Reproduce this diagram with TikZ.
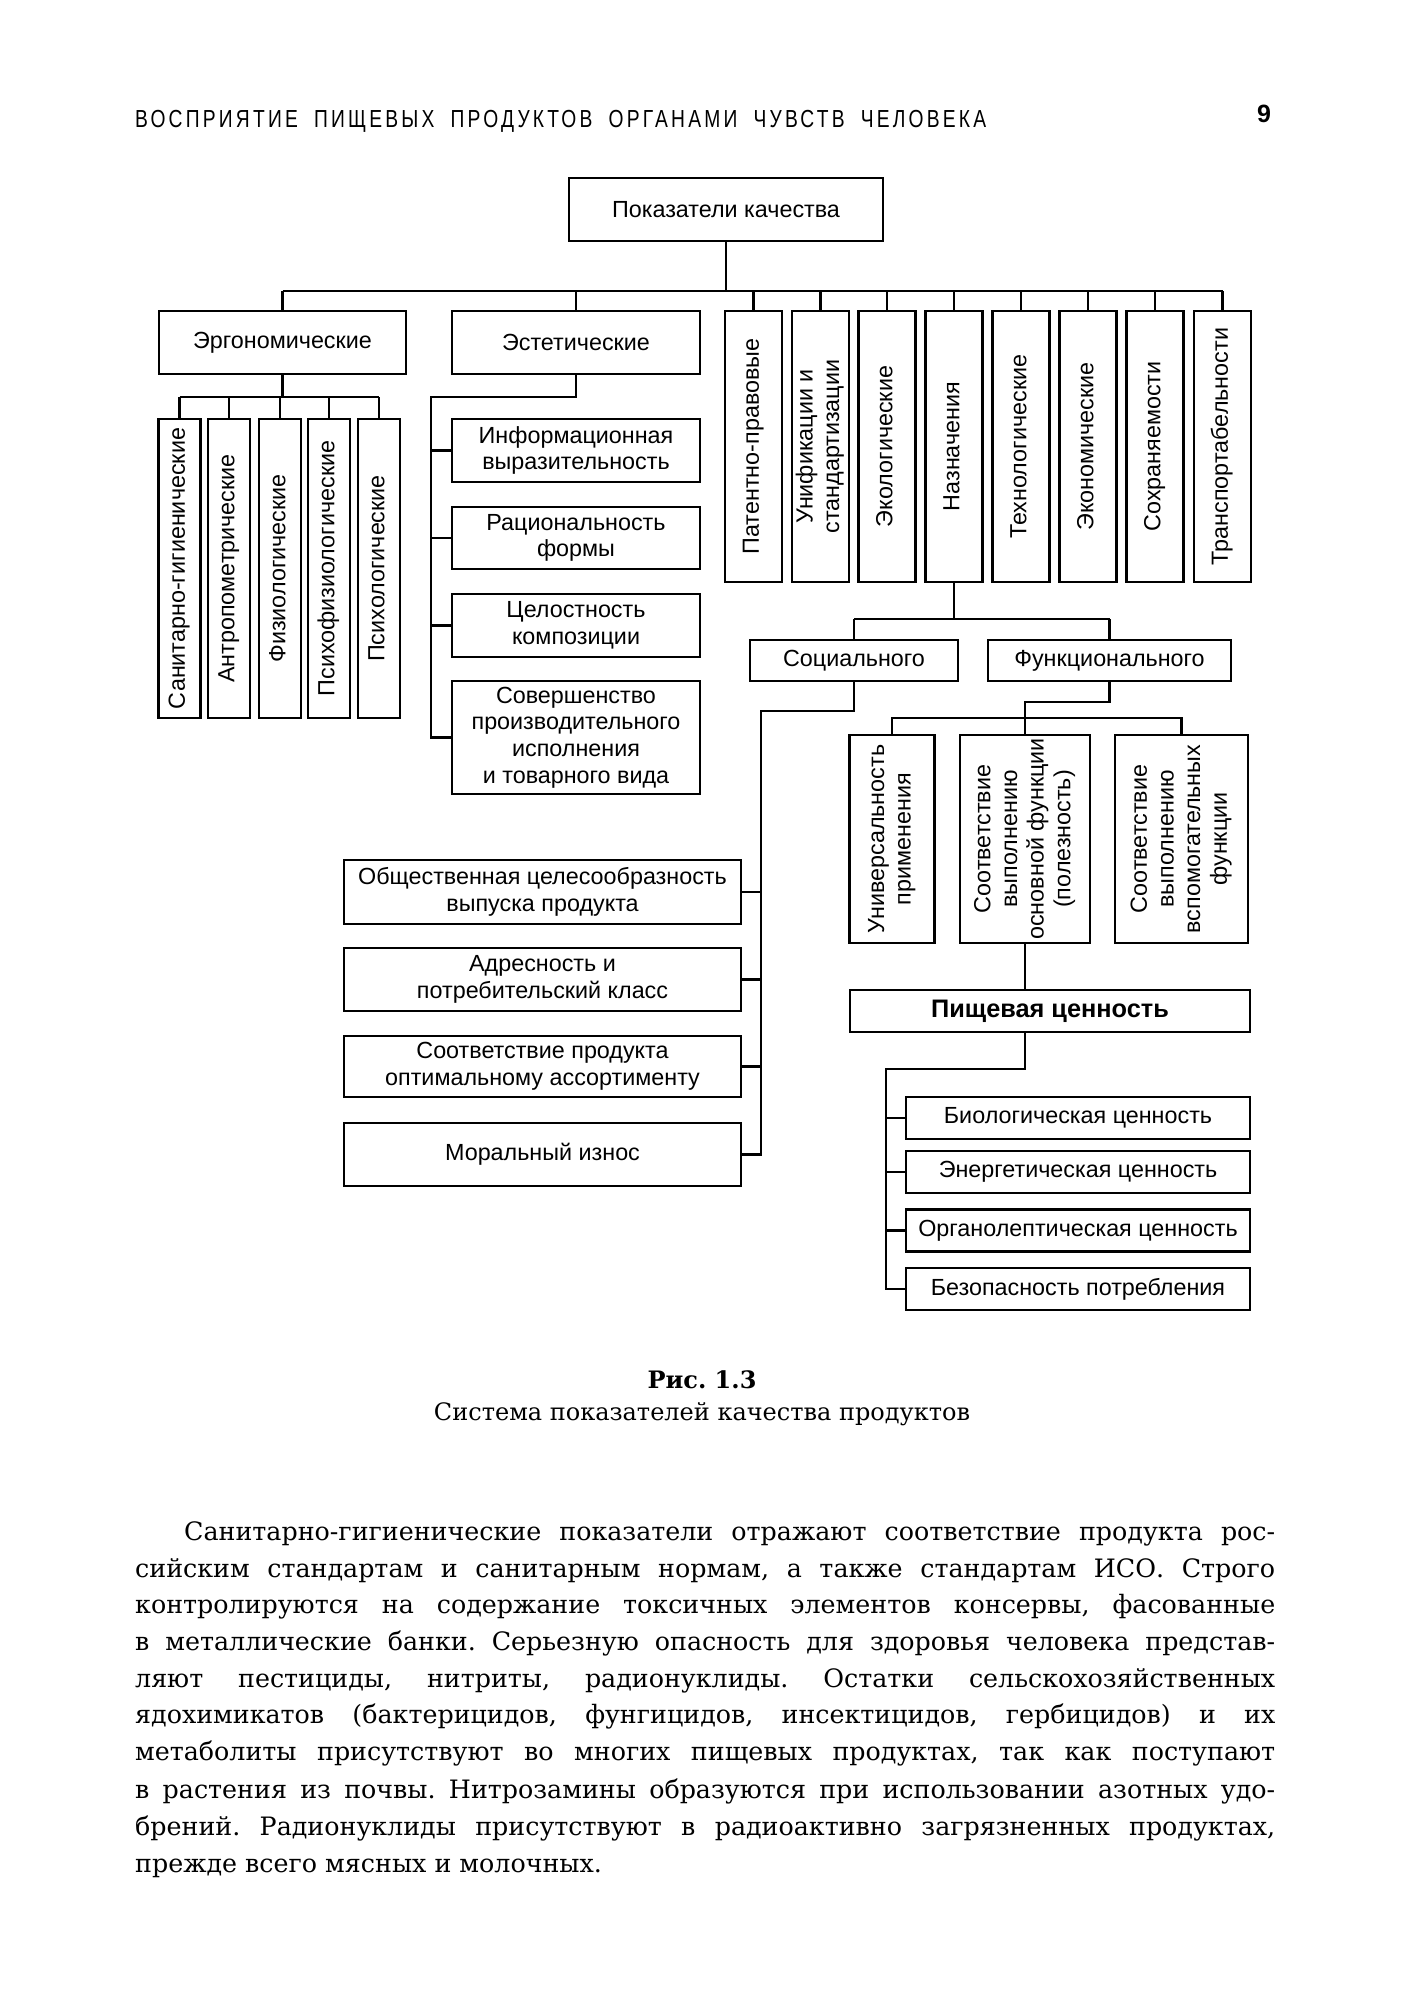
\documentclass[tikz,border=0pt]{standalone}
\usepackage{fontspec}
\usepackage{graphicx}
\setmainfont{DejaVu Serif}
\newfontfamily\diagfont{Liberation Sans}
\newfontfamily\headfont[FakeStretch=0.78,LetterSpace=13]{Liberation Sans}
\newcommand{\vt}[1]{\rotatebox{90}{\begin{tabular}{@{}c@{}}#1\end{tabular}}}
\frenchspacing

\tikzset{
	box/.style={draw, inner sep=0pt, align=center, font=\diagfont\fontsize{7pt}{8pt}\selectfont},
	vbox/.style={box, minimum width=17.1pt, minimum height=81.3pt},
	ebox/.style={box, minimum width=12.6pt, minimum height=89.7pt},
	abox/.style={box, minimum width=74.4pt},
	sbox/.style={box, minimum width=119.1pt},
	funcbox/.style={box, minimum height=62.4pt},
	nbox/.style={box, minimum width=103.2pt, minimum height=12.6pt},
	bodyline/.style={anchor=base west, inner sep=0pt, font=\fontsize{7.6pt}{9pt}\selectfont}
}

\begin{document}
\begin{tikzpicture}[x=0.3pt, y=-0.3pt, line width=0.7pt]
	\useasboundingbox (0,0) rectangle (1405,2000);
	\fill[white] (0,0) rectangle (1405,2000);

	% page head
	\node[anchor=base west, inner sep=0pt] (head) at (134,128) {\headfont\fontsize{7.4pt}{9pt}\selectfont\makebox[255.3pt][s]{ВОСПРИЯТИЕ ПИЩЕВЫХ ПРОДУКТОВ ОРГАНАМИ ЧУВСТВ ЧЕЛОВЕКА}};
	\node[anchor=base, inner sep=0pt, font=\diagfont\bfseries\fontsize{7.5pt}{9pt}\selectfont] (pagenum) at (1264,123) {9};

	% top level
	\node[box, minimum width=94.2pt, minimum height=18.9pt] (quality) at (726,209.5) {Показатели качества};
	\node[box, minimum width=74.1pt, minimum height=18.9pt] (ergo) at (282.5,342.5) {Эргономические};
	\node[box, minimum width=74.4pt, minimum height=18.9pt] (aest) at (576,342.5) {Эстетические};
	\node[vbox] (patent) at (753.5,446.5) {\vt{Патентно-правовые}};
	\node[vbox] (unif) at (820.5,446.5) {\vt{Унификации и\\стандартизации}};
	\node[vbox] (ecol) at (887,446.5) {\vt{Экологические}};
	\node[vbox] (nazn) at (954,446.5) {\vt{Назначения}};
	\node[vbox] (techn) at (1021,446.5) {\vt{Технологические}};
	\node[vbox] (econ) at (1088,446.5) {\vt{Экономические}};
	\node[vbox] (sohr) at (1155,446.5) {\vt{Сохраняемости}};
	\node[vbox] (transp) at (1222.5,446.5) {\vt{Транспортабельности}};

	\coordinate (bar) at (0,291);
	\draw (quality.south) -- (quality.south |- bar);
	\draw (ergo.north |- bar) -- (transp.north |- bar);
	\foreach \n in {ergo,aest,patent,unif,ecol,nazn,techn,econ,sohr,transp}
		\draw (\n.north) -- (\n.north |- bar);

	% ergonomic
	\node[ebox] (san) at (179.5,568.5) {\vt{Санитарно-гигиенические}};
	\node[ebox] (anthro) at (229,568.5) {\vt{Антропометрические}};
	\node[ebox] (phys) at (280,568.5) {\vt{Физиологические}};
	\node[ebox] (psyphys) at (329,568.5) {\vt{Психофизиологические}};
	\node[ebox] (psy) at (379,568.5) {\vt{Психологические}};

	\coordinate (ergobar) at (0,397);
	\draw (ergo.south) -- (ergo.south |- ergobar);
	\draw (san.north |- ergobar) -- (psy.north |- ergobar);
	\foreach \n in {san,anthro,phys,psyphys,psy}
		\draw (\n.north) -- (\n.north |- ergobar);

	% aesthetic
	\node[abox, minimum height=18.9pt] (info) at (576,450.5) {Информационная\\выразительность};
	\node[abox, minimum height=18.6pt] (ration) at (576,538) {Рациональность\\формы};
	\node[abox, minimum height=18.9pt] (integr) at (576,625.5) {Целостность\\композиции};
	\node[abox, minimum height=33.9pt] (perfect) at (576,737.5) {Совершенство\\производительного\\исполнения\\и товарного вида};

	\coordinate (aestx) at (431,397);
	\draw (aest.south) |- (aestx) |- (perfect.west);
	\foreach \n in {info,ration,integr}
		\draw (\n.west) -- (\n.west -| aestx);

	% purpose
	\node[box, minimum width=62.4pt, minimum height=12.3pt] (social) at (854,660.5) {Социального};
	\node[box, minimum width=72.9pt, minimum height=12.3pt] (func) at (1109.5,660.5) {Функционального};

	\coordinate (naznbar) at (0,619);
	\draw (nazn.south) -- (nazn.south |- naznbar);
	\draw (social.north |- naznbar) -- (func.north |- naznbar);
	\draw (social.north) -- (social.north |- naznbar);
	\draw (func.north) -- (func.north |- naznbar);

	% social
	\node[sbox, minimum height=19.2pt] (expedient) at (542.5,892) {Общественная целесообразность\\выпуска продукта};
	\node[sbox, minimum height=18.9pt] (address) at (542.5,979.5) {Адресность и\\потребительский класс};
	\node[sbox, minimum height=18.3pt] (assort) at (542.5,1066.5) {Соответствие продукта\\оптимальному ассортименту};
	\node[sbox, minimum height=18.9pt] (moral) at (542.5,1154.5) {Моральный износ};

	\coordinate (socx) at (761,711);
	\draw (social.south) |- (socx) |- (moral.east);
	\foreach \n in {expedient,address,assort}
		\draw (\n.east) -- (\n.east -| socx);

	% functional
	\node[funcbox, minimum width=25.5pt] (univ) at (892,839) {\vt{Универсальность\\применения}};
	\node[funcbox, minimum width=39pt] (mainf) at (1025,839) {\vt{Соответствие\\выполнению\\основной функции\\(полезность)}};
	\node[funcbox, minimum width=39.9pt] (auxf) at (1181.5,839) {\vt{Соответствие\\выполнению\\вспомогательных\\функции}};

	\coordinate (funcx) at (1025,702);
	\coordinate (funcbar) at (0,718);
	\draw (func.south) |- (funcx) -- (mainf.north);
	\draw (univ.north) -- (univ.north |- funcbar) -- (auxf.north |- funcbar) -- (auxf.north);

	% nutritional value
	\node[box, minimum width=120pt, minimum height=12.6pt, font=\diagfont\bfseries\fontsize{7.6pt}{9pt}\selectfont] (nutr) at (1050,1011) {Пищевая ценность};
	\draw (mainf.south) -- (mainf.south |- nutr.north);

	\node[nbox] (bio) at (1078,1118) {Биологическая ценность};
	\node[nbox] (energy) at (1078,1172) {Энергетическая ценность};
	\node[nbox] (organo) at (1078,1230.5) {Органолептическая ценность};
	\node[nbox] (safety) at (1078,1289) {Безопасность потребления};

	\coordinate (nutrx) at (886,1069);
	\draw (mainf.south |- nutr.south) |- (nutrx) |- (safety.west);
	\foreach \n in {bio,energy,organo}
		\draw (\n.west) -- (\n.west -| nutrx);

	% caption
	\node[anchor=base, inner sep=0pt, font=\bfseries\fontsize{7.2pt}{9pt}\selectfont] (fignum) at (702,1388) {Рис. 1.3};
	\node[anchor=base, inner sep=0pt, font=\fontsize{7.2pt}{9pt}\selectfont] (figtitle) at (702,1420) {Система показателей качества продуктов};

	% text
	\node[bodyline] (l1) at (183,1540) {\makebox[327.3pt][s]{Санитарно-гигиенические показатели отражают соответствие продукта рос-}};
	\node[bodyline] (l2) at (134,1577) {\makebox[342pt][s]{сийским стандартам и санитарным нормам, а также стандартам ИСО. Строго}};
	\node[bodyline] (l3) at (134,1613) {\makebox[342pt][s]{контролируются на содержание токсичных элементов консервы, фасованные}};
	\node[bodyline] (l4) at (134,1650) {\makebox[342pt][s]{в металлические банки. Серьезную опасность для здоровья человека представ-}};
	\node[bodyline] (l5) at (134,1687) {\makebox[342pt][s]{ляют пестициды, нитриты, радионуклиды. Остатки сельскохозяйственных}};
	\node[bodyline] (l6) at (134,1723) {\makebox[342pt][s]{ядохимикатов (бактерицидов, фунгицидов, инсектицидов, гербицидов) и их}};
	\node[bodyline] (l7) at (134,1760) {\makebox[342pt][s]{метаболиты присутствуют во многих пищевых продуктах, так как поступают}};
	\node[bodyline] (l8) at (134,1798) {\makebox[342pt][s]{в растения из почвы. Нитрозамины образуются при использовании азотных удо-}};
	\node[bodyline] (l9) at (134,1835) {\makebox[342pt][s]{брений. Радионуклиды присутствуют в радиоактивно загрязненных продуктах,}};
	\node[bodyline] (l10) at (134,1872) {прежде всего мясных и молочных.};
\end{tikzpicture}
\end{document}
